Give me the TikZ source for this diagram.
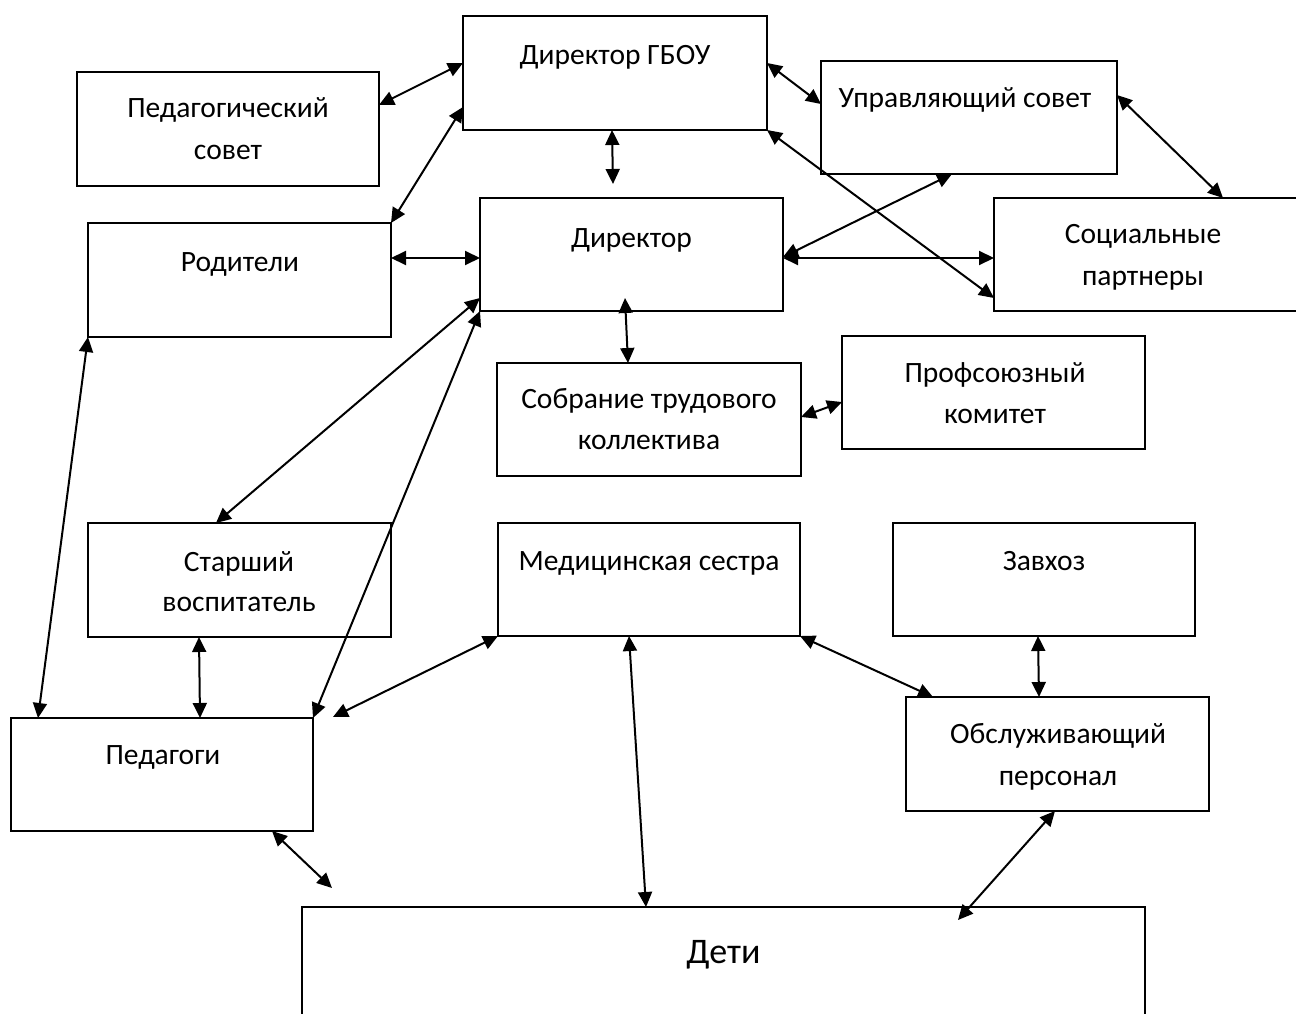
\documentclass[tikz,border=0pt]{standalone}
\usepackage{fontspec}
\setmainfont{Carlito}
\usetikzlibrary{arrows.meta,calc}
\begin{document}
\begin{tikzpicture}[x=1pt,y=-1pt,
  box/.style={draw, line width=2pt, inner sep=0pt, outer sep=0pt},
  lbl/.style={inner sep=0pt, anchor=base, font=\fontsize{29.5}{35}\selectfont},
  biglbl/.style={inner sep=0pt, anchor=base, font=\fontsize{36}{42}\selectfont},
  link/.style={line width=2pt, {Triangle[length=15pt,width=14pt]}-{Triangle[length=15pt,width=14pt]}}
]
\useasboundingbox (0,0) rectangle (1296,1014);
\fill[white] (0,0) rectangle (1296,1014);
\clip (0,0) rectangle (1296,1014);

% boxes
\node[box, minimum width=304pt, minimum height=114pt] (dg) at (615,73) {};
\node[box, minimum width=302pt, minimum height=114pt] (ps) at (228,129) {};
\node[box, minimum width=296pt, minimum height=113pt] (up) at (969,117.5) {};
\node[box, minimum width=303pt, minimum height=114pt] (rod) at (239.5,280) {};
\node[box, minimum width=303pt, minimum height=113pt] (dir) at (631.5,254.5) {};
\node[box, minimum width=304pt, minimum height=113pt] (soc) at (1146,254.5) {};
\node[box, minimum width=304pt, minimum height=113pt] (sob) at (649,419.5) {};
\node[box, minimum width=303pt, minimum height=113pt] (prof) at (993.5,392.5) {};
\node[box, minimum width=303pt, minimum height=114pt] (st) at (239.5,580) {};
\node[box, minimum width=302pt, minimum height=113pt] (med) at (649,579.5) {};
\node[box, minimum width=302pt, minimum height=113pt] (zav) at (1044,579.5) {};
\node[box, minimum width=302pt, minimum height=113pt] (ped) at (162,774.5) {};
\node[box, minimum width=303pt, minimum height=114pt] (obs) at (1057.5,754) {};
\node[box, minimum width=843pt, minimum height=118pt] (det) at (723.5,966) {};

% labels
\node[lbl] (tdg) at (615,65) {Директор ГБОУ};
\node[lbl] (tps1) at (228,118) {Педагогический};
\node[lbl] (tps2) at (228,160) {совет};
\node[lbl] (tup) at (965,108) {Управляющий совет};
\node[lbl] (trod) at (240,271) {Родители};
\node[lbl] (tdir) at (631.5,247) {Директор};
\node[lbl] (tsoc1) at (1143,243) {Социальные};
\node[lbl] (tsoc2) at (1143,285) {партнеры};
\node[lbl] (tsob1) at (649,408) {Собрание трудового};
\node[lbl] (tsob2) at (649,449) {коллектива};
\node[lbl] (tprof1) at (995,382) {Профсоюзный};
\node[lbl] (tprof2) at (995,423) {комитет};
\node[lbl] (tst1) at (239,571) {Старший};
\node[lbl] (tst2) at (239,611) {воспитатель};
\node[lbl] (tmed) at (649,570) {Медицинская сестра};
\node[lbl] (tzav) at (1044,570) {Завхоз};
\node[lbl] (tped) at (163,764) {Педагоги};
\node[lbl] (tobs1) at (1058,743) {Обслуживающий};
\node[lbl] (tobs2) at (1058,785) {персонал};
\node[biglbl] (tdet) at (723.5,963) {Дети};

% free ends
\coordinate (f1) at (613,184);
\coordinate (f2) at (625,298);
\coordinate (f3) at (333,717);
\coordinate (f4) at (958,920);
\coordinate (f5) at (332,888);

% connectors
\draw[link] ($(ps.north east)+(0,33)$) -- ($(dg.north west)+(0,47)$);
\draw[link] ($(dg.north east)+(0,47)$) -- ($(up.north west)+(0,43)$);
\draw[link] ($(dg.south)+(-3,0)$) -- (f1);
\draw[link] ($(dg.north west)+(0,91)$) -- (rod.north east);
\draw[link] (dg.south east) -- ($(soc.north west)+(0,100)$);
\draw[link] ($(up.north east)+(0,34)$) -- ($(soc.north west)+(229,0)$);
\draw[link] ($(up.south west)+(131,0)$) -- ($(dir.north east)+(0,59)$);
\draw[link] ($(dir.north east)+(0,60)$) -- ($(soc.north west)+(0,60)$);
\draw[link] ($(rod.north east)+(0,35)$) -- ($(dir.north west)+(0,60)$);
\draw[link] (f2) -- ($(sob.north west)+(131,0)$);
\draw[link] ($(sob.north east)+(0,54)$) -- ($(prof.north west)+(0,66)$);
\draw[link] ($(dir.north west)+(0,100)$) -- ($(st.north west)+(128,0)$);
\draw[link] (dir.south west) -- (ped.north east);
\draw[link] (rod.south west) -- ($(ped.north west)+(27,0)$);
\draw[link] ($(st.south west)+(111,0)$) -- ($(ped.north west)+(189,0)$);
\draw[link] (med.south west) -- (f3);
\draw[link] ($(med.south west)+(131,0)$) -- ($(det.north west)+(344,0)$);
\draw[link] (med.south east) -- ($(obs.north west)+(27,0)$);
\draw[link] ($(zav.south west)+(145,0)$) -- ($(obs.north west)+(133,0)$);
\draw[link] ($(obs.south west)+(149,0)$) -- (f4);
\draw[link] ($(ped.south west)+(261,0)$) -- (f5);
\end{tikzpicture}
\end{document}
